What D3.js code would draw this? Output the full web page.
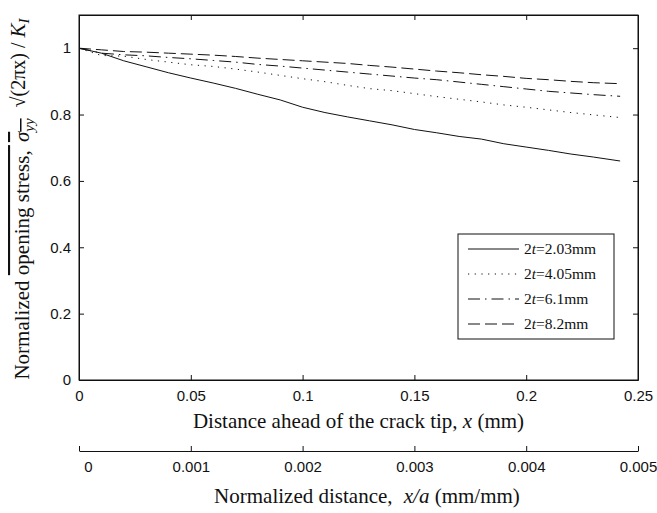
<!DOCTYPE html>
<html>
<head>
<meta charset="utf-8">
<script src="https://cdn.jsdelivr.net/npm/d3@7"></script>
<style>
	body { margin: 0; background: #fff; }
	svg { display: block; }
	.tick text { font-family: 'Liberation Sans', Arial, sans-serif; font-size: 15px; fill: #111; }
	.title { font-family: 'Liberation Serif', 'Times New Roman', serif; font-size: 21px; fill: #111; }
	.legend text { font-family: 'Liberation Serif', 'Times New Roman', serif; font-size: 15.5px; fill: #111; }
</style>
</head>
<body>
<svg id="chart" width="657" height="513"></svg>
<script>
// distance ahead of crack tip (mm)
const xs = [0, 0.01, 0.02, 0.03, 0.04, 0.05, 0.06, 0.07, 0.08, 0.09, 0.1, 0.11, 0.12,
	0.13, 0.14, 0.15, 0.16, 0.17, 0.18, 0.19, 0.2, 0.21, 0.22, 0.23, 0.242]

const t203 = [1.0, 0.985, 0.962, 0.944, 0.926, 0.91, 0.895, 0.879, 0.861, 0.844, 0.822, 0.806, 0.793,
	0.781, 0.769, 0.755, 0.745, 0.734, 0.726, 0.712, 0.702, 0.692, 0.681, 0.672, 0.66]
const t405 = [1.0, 0.978, 0.976, 0.966, 0.958, 0.95, 0.945, 0.937, 0.928, 0.918, 0.908, 0.899, 0.888,
	0.878, 0.872, 0.863, 0.854, 0.846, 0.838, 0.829, 0.822, 0.814, 0.806, 0.799, 0.791]
const t61 = [1.0, 0.985, 0.98, 0.977, 0.972, 0.968, 0.963, 0.958, 0.951, 0.946, 0.94, 0.934, 0.928,
	0.922, 0.916, 0.91, 0.905, 0.898, 0.891, 0.884, 0.877, 0.87, 0.865, 0.86, 0.855]
const t82 = [1.0, 0.995, 0.99, 0.988, 0.985, 0.982, 0.979, 0.975, 0.97, 0.966, 0.962, 0.958, 0.954,
	0.948, 0.943, 0.937, 0.931, 0.926, 0.92, 0.915, 0.909, 0.905, 0.9, 0.896, 0.893]

const seriesNames = ['2.03mm', '4.05mm', '6.1mm', '8.2mm']
const seriesValues = [t203, t405, t61, t82]
const dashes = ['none', '1.2,5.5', '12,5,1.5,5', '12,5']

const xTicks = [0, 0.05, 0.1, 0.15, 0.2, 0.25]
const yTicks = [0, 0.2, 0.4, 0.6, 0.8, 1]
const x2Ticks = [0, 0.001, 0.002, 0.003, 0.004, 0.005]

const svg = d3.select('#chart')
const mLeft = 79, mRight = 638, mTop = 15, mBottom = 380

const x = d3.scaleLinear().domain([0, 0.25]).range([mLeft, mRight])
const y = d3.scaleLinear().domain([0, 1.1]).range([mBottom, mTop])
const x2 = d3.scaleLinear().domain([0, 0.005]).range([mLeft, mRight])

const fmt = d => String(+d.toFixed(4))

// axes, ticks pointing inwards
svg.append('g').attr('transform', `translate(0,${mBottom})`)
	.call(d3.axisBottom(x).tickValues(xTicks).tickFormat(fmt).tickSizeInner(-5).tickSizeOuter(0).tickPadding(10))
svg.append('g').attr('transform', `translate(0,${mTop})`)
	.call(d3.axisTop(x).tickValues(xTicks).tickFormat('').tickSizeInner(-5).tickSizeOuter(0))
svg.append('g').attr('transform', `translate(${mLeft},0)`)
	.call(d3.axisLeft(y).tickValues(yTicks).tickFormat(fmt).tickSizeInner(-5).tickSizeOuter(0).tickPadding(8))
svg.append('g').attr('transform', `translate(${mRight},0)`)
	.call(d3.axisRight(y).tickValues(yTicks).tickFormat('').tickSizeInner(-5).tickSizeOuter(0))

// second x axis (normalized distance)
const gx2 = svg.append('g').attr('transform', 'translate(0,451)')
	.call(d3.axisBottom(x2).tickValues(x2Ticks).tickFormat(fmt).tickSizeInner(-5).tickSizeOuter(0).tickPadding(10))
gx2.selectAll('.tick text').attr('dx', (d, i) => i === 0 ? 9 : 0)

svg.selectAll('.domain, .tick line').attr('stroke', '#111')

// frame
svg.append('rect')
	.attr('x', mLeft).attr('y', mTop)
	.attr('width', mRight - mLeft).attr('height', mBottom - mTop)
	.attr('fill', 'none').attr('stroke', '#111')

// curves
const line = d3.line()
	.x((d, i) => x(xs[i]))
	.y(d => y(d))

svg.append('g')
	.selectAll('path')
	.data(seriesValues)
	.enter()
	.append('path')
	.attr('d', d => line(d))
	.attr('fill', 'none')
	.attr('stroke', '#111')
	.attr('stroke-width', 1)
	.attr('stroke-dasharray', (d, i) => dashes[i])

// legend
const lg = svg.append('g').attr('class', 'legend')
lg.append('rect')
	.attr('x', 458).attr('y', 234).attr('width', 156).attr('height', 105)
	.attr('fill', '#fff').attr('stroke', '#111')
const items = lg.selectAll('g.item')
	.data(seriesNames)
	.enter()
	.append('g')
	.attr('class', 'item')
	.attr('transform', (d, i) => `translate(0,${249 + i * 25})`)
items.append('line')
	.attr('x1', 468).attr('x2', 519)
	.attr('stroke', '#111')
	.attr('stroke-dasharray', (d, i) => dashes[i])
const lt = items.append('text').attr('x', 524).attr('y', 5)
lt.append('tspan').text('2')
lt.append('tspan').attr('font-style', 'italic').text('t')
lt.append('tspan').text(d => '=' + d)

// axis titles
const t1 = svg.append('text').attr('class', 'title')
	.attr('x', (mLeft + mRight) / 2).attr('y', 428).attr('text-anchor', 'middle')
t1.append('tspan').text('Distance ahead of the crack tip, ')
t1.append('tspan').attr('font-style', 'italic').text('x')
t1.append('tspan').text(' (mm)')

const t2 = svg.append('text').attr('class', 'title')
	.attr('x', 367).attr('y', 503).attr('text-anchor', 'middle')
t2.append('tspan').text('Normalized distance, ')
t2.append('tspan').attr('font-style', 'italic').attr('dx', 6).text('x/a')
t2.append('tspan').text(' (mm/mm)')

const ty = svg.append('text').attr('class', 'title')
	.attr('transform', 'translate(29,199) rotate(-90)')
	.attr('text-anchor', 'middle')
	.attr('font-size', 22.5)
ty.append('tspan').text('Normalized ')
ty.append('tspan').attr('text-decoration', 'overline').text('opening stress, ')
ty.append('tspan').attr('text-decoration', 'overline').attr('font-style', 'italic').attr('dx', 3).text('σ')
ty.append('tspan').attr('text-decoration', 'overline').attr('font-style', 'italic')
	.attr('font-size', 15).attr('dy', 5).text('yy')
ty.append('tspan').attr('dy', -9).attr('dx', 6).attr('font-size', 20).text(' √(2πx) / ')
ty.append('tspan').attr('font-style', 'italic').text('K')
ty.append('tspan').attr('font-style', 'italic').attr('font-size', 15).attr('dy', 4).text('I')
</script>
</body>
</html>
